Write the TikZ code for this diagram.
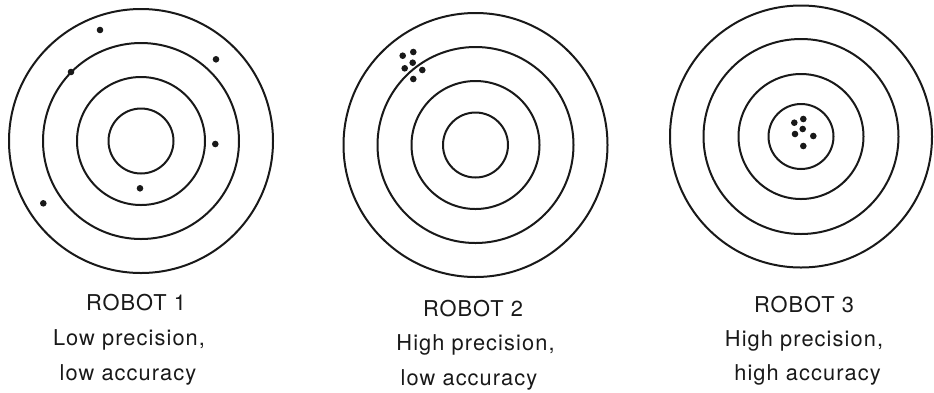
\documentclass[tikz,border=0pt]{standalone}
\usepackage{fontspec}
\setmainfont{TeX Gyre Heros}[LetterSpace=5]
\begin{document}
\begin{tikzpicture}[x=1pt,y=-1pt,
  ring/.style={line width=2pt, draw=black!90},
  hit/.style={fill=black!90},
  lbl/.style={anchor=base, inner sep=0pt, font=\fontsize{21.8}{24}\selectfont, text=black!90}]
\useasboundingbox (0,0) rectangle (934,392);
% Target 1
\foreach \r in {132,98,64,32.5} \draw[ring] (141,141) circle (\r);
\foreach \p in {(100,30),(216,59.3),(71,72),(215.3,144),(140,188.3),(43.3,203.3)}
  \fill[hit] \p circle (3.3);
% Target 2
\foreach \r in {132,98,64,32.5} \draw[ring] (475.5,145) circle (\r);
\foreach \p in {(402.7,55.7),(413.3,52),(412.7,62.7),(404.7,68.3),(422.3,70),(413.3,79)}
  \fill[hit] \p circle (3.3);
% Target 3
\foreach \r in {131,97.5,62.5,32.5} \draw[ring] (801,136.5) circle (\r);
\foreach \p in {(794.3,122.7),(803.3,119),(802.7,129),(795,134),(813.3,136),(803.3,146)}
  \fill[hit] \p circle (3.3);
% Labels
\node[lbl] (r1a) at (136,310.7) {ROBOT 1};
\node[lbl] (r1b) at (129,345) {Low precision,};
\node[lbl] (r1c) at (128,380) {low accuracy};
\node[lbl] (r2a) at (473,316.7) {ROBOT 2};
\node[lbl] (r2b) at (475.5,350.7) {High precision,};
\node[lbl] (r2c) at (469,385) {low accuracy};
\node[lbl] (r3a) at (804,312.3) {ROBOT 3};
\node[lbl] (r3b) at (804,346.7) {High precision,};
\node[lbl] (r3c) at (807.5,380) {high accuracy};
\end{tikzpicture}
\end{document}
